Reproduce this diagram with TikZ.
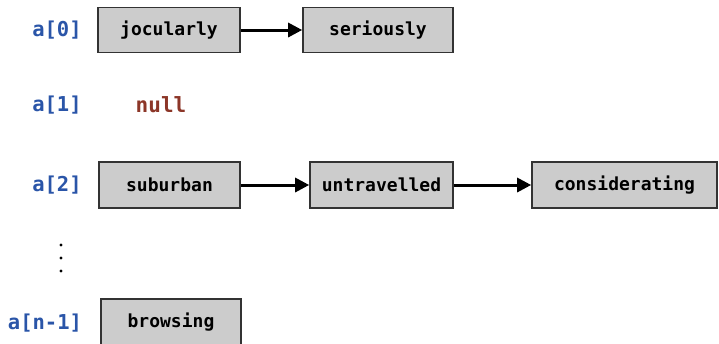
\documentclass[tikz,border=0pt]{standalone}
\usepackage{fontspec}
\setmonofont{DejaVu Sans Mono}
\usetikzlibrary{arrows.meta}
\definecolor{idxblue}{HTML}{2A55A8}
\definecolor{nullred}{HTML}{8C3628}
\definecolor{boxgray}{HTML}{CCCCCC}
\definecolor{boxline}{HTML}{333333}
\tikzset{
  cell/.style={draw=boxline, line width=1.6pt, fill=boxgray, minimum height=45pt,
    inner sep=0pt, font=\ttfamily\bfseries\fontsize{18}{18}\selectfont, text=black},
  idx/.style={font=\ttfamily\bfseries\fontsize{20.5}{20.5}\selectfont, text=idxblue},
  link/.style={line width=3pt, -{Triangle[length=14pt,width=14pt]}},
}
\begin{document}
\begin{tikzpicture}[x=1pt,y=-1pt]
\useasboundingbox (0,0) rectangle (719,343);
% index labels
\node[idx] (i0) at (57,30) {a[0]};
\node[idx] (i1) at (57,105) {a[1]};
\node[idx] (i2) at (57,185) {a[2]};
\node[idx] (in) at (45,323) {a[n-1]};
\node[font=\ttfamily\bfseries\fontsize{21}{21}\selectfont, text=nullred] (nl) at (161,105) {null};
% ellipsis dots
\foreach \yy in {245,258,271} \fill (61,\yy) circle (1.7pt);
% chain of a[0]
\node[cell, minimum width=142pt] (j) at (169,30) {jocularly};
\node[cell, minimum width=150pt] (s) at (378,30) {seriously};
\draw[link] (j) -- (s);
% chain of a[2]
\node[cell, minimum width=141pt, minimum height=46pt] (sb) at (169.5,185) {suburban};
\node[cell, minimum width=143pt, minimum height=46pt] (ut) at (381.5,185) {untravelled};
\node[cell, minimum width=185pt, minimum height=46pt] (cd) at (624.5,185) {considerating};
\draw[link] (sb) -- (ut);
\draw[link] (ut) -- (cd);
% chain of a[n-1]
\node[cell, minimum width=140pt, minimum height=46pt] (br) at (171,322) {browsing};
\end{tikzpicture}
\end{document}
